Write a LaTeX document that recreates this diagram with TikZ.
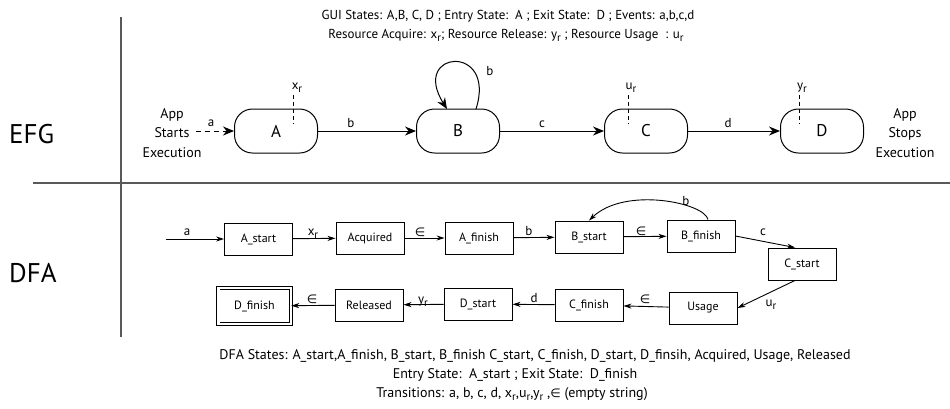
\documentclass[tikz,border=0pt]{standalone}
\usepackage{fontspec}
\setmainfont{PT Sans}
\newfontfamily\symfont{DejaVu Sans}
\usetikzlibrary{arrows.meta}
\newcommand\rsub{\raisebox{-0.5ex}{\fontsize{11}{12}\selectfont r}}
\newcommand\eps{{\symfont\fontsize{12}{14}\selectfont ∈}}
\begin{document}
\begin{tikzpicture}[x=1pt,y=-1pt,
  gui/.style={draw,line width=1pt,rounded corners=18pt,minimum width=83pt,
    minimum height=44pt,inner sep=0pt,font=\fontsize{17}{20}\selectfont},
  stbox/.style={draw,line width=0.9pt,minimum width=68pt,minimum height=32pt,
    inner sep=0pt,font=\fontsize{12}{14}\selectfont},
  efgarrow/.style={line width=1pt,-{Stealth[length=11pt,width=9pt]}},
  dfaarrow/.style={line width=0.9pt,-{Stealth[length=8pt,width=5pt]}},
  lbl/.style={inner sep=0pt,anchor=base,font=\fontsize{13}{15}\selectfont},
  caption/.style={inner sep=0pt,anchor=base,font=\fontsize{13}{15}\selectfont},
  footnote/.style={inner sep=0pt,anchor=base,font=\fontsize{14}{16}\selectfont},
  tick/.style={line width=0.9pt,dash pattern=on 4pt off 3pt},
  divider/.style={line width=1.2pt,draw=black!65}]
\useasboundingbox (0,0) rectangle (950,408);

% frame lines separating the two rows
\draw[divider] (121,17) -- (121,337);
\draw[divider] (33,183) -- (950,183);
\node[inner sep=0pt,anchor=base west,font=\fontsize{27}{30}\selectfont] (efgtitle) at (9,143) {EFG};
\node[inner sep=0pt,anchor=base west,font=\fontsize{27}{30}\selectfont] (dfatitle) at (9,282) {DFA};

% header
\node[caption] (h1) at (508,19) {GUI States: A,B, C, D ; Entry State:\ \ A ; Exit State:\ \ D ; Events: a,b,c,d};
\node[caption] (h2) at (506,38) {Resource Acquire: x\rsub; Resource Release: y\rsub\ ; Resource Usage\ \ : u\rsub};

% event flow graph
\node[gui] (A) at (276,131) {A};
\node[gui] (B) at (458,131) {B};
\node[gui] (C) at (646,131) {C};
\node[gui] (D) at (822,131) {D};
\node[align=center,inner sep=0pt,font=\fontsize{14}{19.5}\selectfont] (start) at (172,133) {App\\Starts\\Execution};
\node[align=center,inner sep=0pt,font=\fontsize{14}{19.5}\selectfont] (stop) at (905,133) {App\\Stops\\Execution};
\coordinate (startpt) at (196,131);

\draw[efgarrow,dash pattern=on 5pt off 4pt] (startpt) -- (A);
\draw[efgarrow] (A) -- (B);
\draw[efgarrow] (B) -- (C);
\draw[efgarrow] (C) -- (D);
\draw[efgarrow] (476,109) .. controls (497,43) and (410,50) .. (447,109);

\node[lbl] (la) at (211,126) {a};
\node[lbl] (lb) at (351,127) {b};
\node[lbl] (lc) at (542,127) {c};
\node[lbl] (ld) at (728,127) {d};
\node[lbl] (lbb) at (490,75) {b};

% resource markers
\draw[tick] (293,95) -- (293,124);
\draw[tick] (628,95) -- (628,124);
\draw[tick] (799,95) -- (799,124);
\node[lbl] (lx) at (297,89) {x\rsub};
\node[lbl] (lu) at (631,89) {u\rsub};
\node[lbl] (ly) at (802,89) {y\rsub};

% finite automaton
\node[stbox] (As) at (258.5,239) {A\_start};
\node[stbox] (Acq) at (370,238) {Acquired};
\node[stbox] (Af) at (479,238) {A\_finish};
\node[stbox] (Bs) at (589,237) {B\_start};
\node[stbox] (Bf) at (701,236) {B\_finish};
\node[stbox] (Cs) at (802,264) {C\_start};
\node[stbox] (Us) at (703,308) {Usage};
\node[stbox] (Cf) at (589,305) {C\_finish};
\node[stbox] (Ds) at (478,304) {D\_start};
\node[stbox] (Rel) at (369,305) {Released};
\node[stbox,minimum width=72.5pt,minimum height=36pt,double,double distance=2.5pt] (Df) at (254.5,306) {D\_finish};
\coordinate (inpt) at (166,239);

\draw[dfaarrow] (inpt) -- (As);
\draw[dfaarrow] (As) -- (Acq);
\draw[dfaarrow] (Acq) -- (Af);
\draw[dfaarrow] (Af) -- (Bs);
\draw[dfaarrow] (Bs) -- (Bf);
\draw[dfaarrow] ([xshift=7pt]Bf.north) .. controls (705,203) and (625,186) .. (Bs.north);
\draw[dfaarrow] (Bf.east) -- ([xshift=-7pt]Cs.north);
\draw[dfaarrow] ([xshift=-7pt]Cs.south) -- (Us.east);
\draw[dfaarrow] (Us) -- (Cf);
\draw[dfaarrow] (Cf) -- (Ds);
\draw[dfaarrow] (Ds) -- (Rel);
\draw[dfaarrow] (Rel) -- (Df);

\node[lbl] (da) at (187,235) {a};
\node[lbl] (dx) at (313,235) {x\rsub};
\node[lbl] (de1) at (420,236) {\eps};
\node[lbl] (db1) at (529,235) {b};
\node[lbl] (de2) at (641,235) {\eps};
\node[lbl] (db2) at (686,205) {b};
\node[lbl] (dc) at (763,235) {c};
\node[lbl] (du) at (771,306) {u\rsub};
\node[lbl] (de3) at (645,303) {\eps};
\node[lbl] (dd) at (534,302) {d};
\node[lbl] (dy) at (423,303) {y\rsub};
\node[lbl] (de4) at (312,303) {\eps};

% footer
\node[footnote] (f1) at (535,359) {DFA States: A\_start,A\_finish, B\_start, B\_finish C\_start, C\_finish, D\_start, D\_finsih, Acquired, Usage, Released};
\node[footnote] (f2) at (515,378) {Entry State:\ \ A\_start ; Exit State:\ \ D\_finish};
\node[footnote] (f3) at (512,397) {Transitions: a, b, c, d, x\rsub,u\rsub,y\rsub\ ,\eps\ (empty string)};
\end{tikzpicture}
\end{document}
